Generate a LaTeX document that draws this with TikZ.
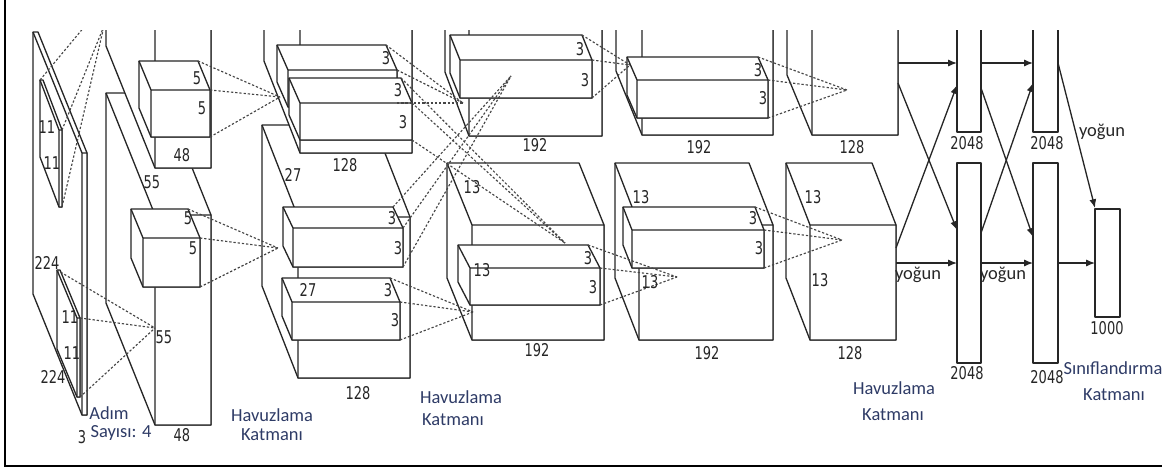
\documentclass[tikz,border=0pt]{standalone}
\usepackage{fontspec}
\setmainfont{Carlito}
\newfontfamily\numfont[FakeStretch=0.74]{DejaVu Sans}
\usetikzlibrary{arrows.meta}
\definecolor{clbl}{HTML}{2E3B66}
\definecolor{cline}{HTML}{262626}
\definecolor{cdash}{HTML}{454545}

% front face x0,y0,x1,y1 and the depth offset dx,dy (back face lies up-left)
\newcommand{\cuboid}[6]{%
  \filldraw[cub] (#1-#5,#2-#6) -- (#3-#5,#2-#6) -- (#3,#2) -- (#3,#4) -- (#1,#4) -- (#1-#5,#4-#6) -- cycle;
  \draw[cub] (#1,#2) rectangle (#3,#4) (#1,#2) -- (#1-#5,#2-#6);
}

\begin{document}
\begin{tikzpicture}[
    x=0.02cm, y=-0.02cm,
    cub/.style={draw=cline, fill=white, line width=0.75pt, line join=round},
    dsh/.style={draw=cdash, line width=0.65pt, dash pattern=on 1.3pt off 1.1pt},
    arr/.style={draw=cline, line width=0.75pt, -{Latex[length=5pt,width=4pt]}},
    num/.style={font=\numfont\fontsize{10}{12}\selectfont, text=cline, inner sep=0pt},
    capt/.style={font=\fontsize{10.5}{12}\selectfont, text=clbl, inner sep=0pt},
    dns/.style={font=\fontsize{10.5}{12}\selectfont, text=cline, inner sep=0pt},
]

\useasboundingbox (0,0) rectangle (1162,470);
\draw[line width=1.2pt] (5,0) -- (5,466) -- (1162,466);

\begin{scope}
\clip (6,30) rectangle (1162,464);

% --- input 224x224x3 ---
\cuboid{82}{153}{87}{415}{49}{121}
\cuboid{59}{130}{62}{207}{19}{50}
\cuboid{77}{318}{80}{397}{20}{48}

% --- conv1 ---
\cuboid{155}{215}{211}{425}{49}{122}
\cuboid{143}{238}{200}{287}{12}{29}
\cuboid{155}{20}{211}{168}{49}{122}
\cuboid{151}{90}{210}{137}{12}{29}

% --- conv2 ---
\cuboid{298}{217}{410}{378}{36}{92}
\cuboid{293}{228}{403}{267}{10}{21}
\cuboid{292}{302}{400}{340}{10}{24}
\cuboid{300}{20}{412}{153}{36}{92}
\cuboid{288}{70}{397}{107}{11}{25}
\cuboid{300}{103}{412}{140}{11}{25}

% --- conv3 ---
\cuboid{472}{225}{604}{340}{25}{62}
\cuboid{470}{268}{600}{305}{12}{23}
\cuboid{469}{20}{602}{136}{24}{64}
\cuboid{460}{60}{592}{98}{10}{25}

% --- conv4 ---
\cuboid{639}{225}{773}{340}{24}{62}
\cuboid{632}{230}{764}{268}{9}{23}
\cuboid{642}{20}{773}{135}{26}{64}
\cuboid{637}{80}{768}{118}{10}{23}

% --- conv5 ---
\cuboid{810}{225}{896}{340}{24}{62}
\cuboid{812}{20}{898}{135}{25}{60}

% --- dense layers ---
\draw[cub] (957,20) rectangle (981,132);
\draw[cub] (957,163) rectangle (981,363);
\draw[cub] (1033,20) rectangle (1058,132);
\draw[cub] (1033,163) rectangle (1058,363);
\draw[cub] (1095,209) rectangle (1120,317);

% convergence points of the kernels
\coordinate (pin1) at (155,328);
\coordinate (pc2a) at (280,97);
\coordinate (pc2b) at (278,248);
\coordinate (pc3a) at (463,103);
\coordinate (pc3x) at (511,76);
\coordinate (pc3b) at (565,243);
\coordinate (pc3c) at (473,312);
\coordinate (pc4a) at (630,65);
\coordinate (pc4b) at (677,277);
\coordinate (pc5a) at (847,90);
\coordinate (pc5b) at (842,240);

% dashed kernel lines
\draw[dsh] (40,80) -- (85,26);
\draw[dsh] (62,130) -- (104,26);
\draw[dsh] (62,207) -- (104,26);
\foreach \x/\y in {57/270,80/318,80/397} \draw[dsh] (\x,\y) -- (pin1);
\foreach \x/\y in {198/61,210/90,210/137} \draw[dsh] (\x,\y) -- (pc2a);
\foreach \x/\y in {188/209,200/238,200/287} \draw[dsh] (\x,\y) -- (pc2b);
\foreach \x/\y in {386/45,397/70,397/103} \draw[dsh] (\x,\y) -- (pc3a);
\foreach \x/\y in {401/78,412/103,412/140} \draw[dsh] (\x,\y) -- (pc3b);
\foreach \x/\y in {393/207,403/228,403/267} \draw[dsh] (\x,\y) -- (pc3x);
\foreach \x/\y in {390/278,400/302,400/340} \draw[dsh] (\x,\y) -- (pc3c);
\foreach \x/\y in {582/35,592/60,592/98} \draw[dsh] (\x,\y) -- (pc4a);
\foreach \x/\y in {588/245,600/268,600/305} \draw[dsh] (\x,\y) -- (pc4b);
\foreach \x/\y in {758/57,768/80,768/118} \draw[dsh] (\x,\y) -- (pc5a);
\foreach \x/\y in {755/207,764/230,764/268} \draw[dsh] (\x,\y) -- (pc5b);

% dense connections
\coordinate (c5a-o1) at (898,63);   \coordinate (f6a-i1) at (957,63);
\coordinate (c5a-o2) at (898,83);   \coordinate (f6b-i1) at (957,230);
\coordinate (c5b-o1) at (896,248);  \coordinate (f6a-i2) at (957,85);
\coordinate (c5b-o2) at (896,263);  \coordinate (f6b-i2) at (957,263);
\coordinate (f6a-o1) at (981,63);   \coordinate (f7a-i1) at (1033,63);
\coordinate (f6a-o2) at (981,88);   \coordinate (f7b-i1) at (1033,237);
\coordinate (f6b-o1) at (981,233);  \coordinate (f7a-i2) at (1033,83);
\coordinate (f6b-o2) at (981,263);  \coordinate (f7b-i2) at (1033,263);
\coordinate (f7a-o) at (1058,63);   \coordinate (out-i1) at (1095,208);
\coordinate (f7b-o) at (1058,263);  \coordinate (out-i2) at (1095,263);
\draw[arr] (c5a-o1) -- (f6a-i1);
\draw[arr] (c5a-o2) -- (f6b-i1);
\draw[arr] (c5b-o1) -- (f6a-i2);
\draw[arr] (c5b-o2) -- (f6b-i2);
\draw[arr] (f6a-o1) -- (f7a-i1);
\draw[arr] (f6a-o2) -- (f7b-i1);
\draw[arr] (f6b-o1) -- (f7a-i2);
\draw[arr] (f6b-o2) -- (f7b-i2);
\draw[arr] (f7a-o) -- (out-i1);
\draw[arr] (f7b-o) -- (out-i2);
\end{scope}

% --- sizes ---
\node[num] (in-k1) at (47,127) {11};
\node[num] (in-k2) at (52,163) {11};
\node[num] (in-h) at (47,263) {224};
\node[num] (in-k3) at (70,317) {11};
\node[num] (in-k4) at (72,353) {11};
\node[num] (in-w) at (53,377) {224};
\node[num] (in-d) at (82,437) {3};
\node[num] (c1-a) at (152,182) {55};
\node[num] (c1-b) at (164,337) {55};
\node[num] (c1-k1) at (197,78) {5};
\node[num] (c1-k2) at (202,108) {5};
\node[num] (c1-d1) at (182,155) {48};
\node[num] (c1-k3) at (188,218) {5};
\node[num] (c1-k4) at (193,248) {5};
\node[num] (c1-d2) at (182,435) {48};
\node[num] (c2-k1) at (386,58) {3};
\node[num] (c2-k2) at (398,90) {3};
\node[num] (c2-k3) at (403,122) {3};
\node[num] (c2-d1) at (345,165) {128};
\node[num] (c2-a) at (293,175) {27};
\node[num] (c2-k4) at (392,218) {3};
\node[num] (c2-k5) at (398,248) {3};
\node[num] (c2-b) at (308,290) {27};
\node[num] (c2-k6) at (388,290) {3};
\node[num] (c2-k7) at (395,320) {3};
\node[num] (c2-d2) at (358,393) {128};
\node[num] (c3-k1) at (580,49) {3};
\node[num] (c3-k2) at (585,80) {3};
\node[num] (c3-d1) at (535,145) {192};
\node[num] (c3-a) at (472,187) {13};
\node[num] (c3-b) at (482,270) {13};
\node[num] (c3-k3) at (588,258) {3};
\node[num] (c3-k4) at (593,287) {3};
\node[num] (c3-d2) at (537,350) {192};
\node[num] (c4-k1) at (758,70) {3};
\node[num] (c4-k2) at (763,98) {3};
\node[num] (c4-d1) at (699,147) {192};
\node[num] (c4-a) at (641,197) {13};
\node[num] (c4-k3) at (753,218) {3};
\node[num] (c4-k4) at (759,248) {3};
\node[num] (c4-b) at (650,282) {13};
\node[num] (c4-d2) at (707,353) {192};
\node[num] (c5-d1) at (852,147) {128};
\node[num] (c5-a) at (813,197) {13};
\node[num] (c5-b) at (820,280) {13};
\node[num] (c5-d2) at (850,353) {128};
\node[num] (f6-a) at (967,143) {2048};
\node[num] (f6-b) at (967,373) {2048};
\node[num] (f7-a) at (1047,143) {2048};
\node[num] (f7-b) at (1047,377) {2048};
\node[num] (out-n) at (1107,328) {1000};

% --- captions ---
\node[capt] (stride1) at (109,413) {Adım};
\node[capt] (stride2) at (121,433) {Sayısı: 4};
\node[capt] (pool1a) at (272,415) {Havuzlama};
\node[capt] (pool1b) at (272,435) {Katmanı};
\node[capt] (pool2a) at (461,397) {Havuzlama};
\node[capt] (pool2b) at (453,420) {Katmanı};
\node[capt] (pool3a) at (894,388) {Havuzlama};
\node[capt] (pool3b) at (893,415) {Katmanı};
\node[capt] (clsa) at (1113,368) {Sınıflandırma};
\node[capt] (clsb) at (1114,395) {Katmanı};
\node[dns] (dense1) at (1102,132) {yoğun};
\node[dns] (dense2) at (918,275) {yoğun};
\node[dns] (dense3) at (1003,275) {yoğun};

\end{tikzpicture}
\end{document}
